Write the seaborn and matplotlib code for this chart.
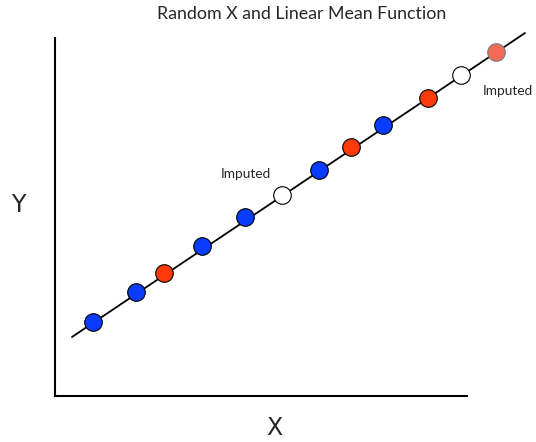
import numpy as np
import pandas as pd
import seaborn as sns
import matplotlib.pyplot as plt

# points along the mean function (x, y in axis units, origin at the corner of the axes)
x_vals = [38, 81, 109, 147, 190, 227, 264, 296, 328, 373, 406, 441]
y_vals = [74, 104, 123, 150, 179, 201, 226, 249, 271, 298, 321, 344]
kind = ["observed", "observed", "missing", "observed", "observed", "imputed",
        "observed", "missing", "observed", "missing", "imputed", "faded"]

# linear mean function end points
line_x = [17, 470]
line_y = [59, 363]

# annotations
label_text = ["Imputed", "Imputed"]
label_x = [191, 453]
label_y = [222, 305]

palette = {"observed": "#0a3cff", "missing": "#ff3a0a", "imputed": "white", "faded": "#f26a55"}
edges = {"observed": "black", "missing": "black", "imputed": "black", "faded": "#7a7a7a"}

sns.set_style("white")
plt.rcParams['font.family'] = ['Lato', 'DejaVu Sans']

df = pd.DataFrame({"x": x_vals, "y": y_vals, "kind": kind})

fig = plt.figure(figsize=(5.36, 4.42), dpi=100)
ax = fig.add_axes([55 / 536, 46 / 442, 481 / 536, 396 / 442])

ax.plot(line_x, line_y, color="black", lw=1.3, zorder=1, clip_on=False)
for k, sub in df.groupby("kind"):
    sns.scatterplot(data=sub, x="x", y="y", color=palette[k], edgecolor=edges[k],
                    linewidth=0.8, s=160, ax=ax, zorder=2, clip_on=False, legend=False)

for t, lx, ly in zip(label_text, label_x, label_y):
    ax.text(lx, ly, t, fontsize=9.8, ha="center", va="center")

ax.set_xlim(0, 481)
ax.set_ylim(0, 396)
ax.set_xlabel("")
ax.set_ylabel("")
ax.set_xticks([])
ax.set_yticks([])
for side in ["top", "right"]:
    ax.spines[side].set_visible(False)
for side in ["left", "bottom"]:
    ax.spines[side].set_color("black")
    ax.spines[side].set_linewidth(1.5)
ax.spines["left"].set_bounds(0, 358)
ax.spines["bottom"].set_bounds(0, 412)

fig.text(302 / 536, 1 - 14 / 442, "Random X and Linear Mean Function", fontsize=12.8,
         ha="center", va="center")
fig.text(18 / 536, 1 - 205 / 442, "Y", fontsize=17, ha="center", va="center",
         family=['DejaVu Sans'])
fig.text(274 / 536, 1 - 428 / 442, "X", fontsize=17, ha="center", va="center",
         family=['DejaVu Sans'])

fig.savefig("out.png", dpi=100)
